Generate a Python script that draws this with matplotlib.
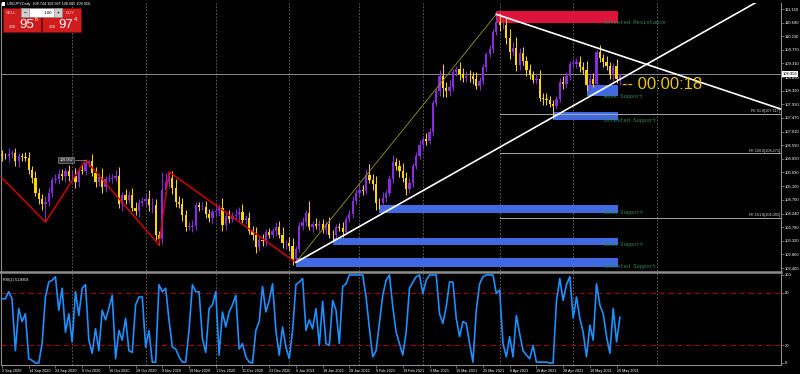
import matplotlib
matplotlib.use("Agg")
import matplotlib.pyplot as plt
import matplotlib.transforms as mtrans
from matplotlib.patches import Rectangle
from matplotlib.lines import Line2D
import numpy as np

plt.rcParams['font.family'] = ['Liberation Sans', 'DejaVu Sans']

# ---------------- data ----------------
closes = [
    106.18, 106.17, 106.24, 106.27, 106.01, 106.18, 106.15, 106.13, 105.71, 105.43,
    104.94, 104.72, 104.55, 104.64, 104.92, 105.38, 105.40, 105.58, 105.50, 105.69,
    105.50, 105.52, 105.30, 105.72, 105.67, 105.96, 106.00, 105.60, 105.30, 105.48,
    105.12, 105.42, 105.42, 105.45, 105.50, 104.56, 104.86, 104.70, 104.85, 104.43,
    104.33, 104.60, 104.65, 104.72, 104.52, 104.52, 103.50, 103.37, 105.05, 105.30,
    105.43, 105.10, 104.62, 104.55, 104.19, 103.80, 103.80, 103.82, 104.52, 104.45,
    104.47, 104.23, 104.08, 104.28, 104.32, 104.42, 103.84, 104.17, 104.05, 104.16,
    104.20, 104.30, 104.03, 104.08, 103.65, 103.50, 103.10, 103.36, 103.31, 103.63,
    103.53, 103.64, 103.80, 103.53, 103.24, 103.24, 103.13, 102.70, 103.05, 103.82,
    103.94, 104.25, 103.77, 103.88, 103.83, 103.87, 103.69, 103.87, 103.52, 103.50,
    103.77, 103.76, 103.61, 104.07, 104.23, 104.68, 104.94, 105.04, 105.01, 105.53,
    105.38, 105.25, 104.60, 104.58, 104.78, 104.93, 105.40, 105.98, 105.86, 105.69,
    105.44, 105.07, 105.28, 105.86, 106.19, 106.56, 106.76, 106.69, 107.00, 107.98,
    108.37, 108.90, 108.48, 108.37, 108.50, 109.02, 109.12, 108.95, 108.82, 108.90,
    108.88, 108.78, 108.56, 108.73, 109.18, 109.63, 109.80, 110.38, 110.71, 110.61,
    110.61, 110.17, 109.71, 109.84, 109.25, 109.67, 109.39, 109.08, 108.92, 108.76,
    108.78, 108.16, 108.11, 108.07, 107.95, 107.88, 108.12, 108.67, 108.60, 108.90,
    109.30, 109.30, 109.37, 109.20, 109.08, 108.58, 108.80, 108.63, 109.69, 109.49,
    109.35, 109.22, 108.92, 109.22, 108.77, 108.96,
]
first_open = 106.25
wick_up = [
    0.15, 0.12, 0.20, 0.10, 0.18, 0.12, 0.10, 0.16, 0.20, 0.12,
    0.25, 0.15, 0.18, 0.20, 0.22, 0.10, 0.18, 0.12, 0.15, 0.10,
    0.20, 0.18, 0.25, 0.10, 0.20, 0.09, 0.06, 0.25, 0.20, 0.12,
    0.30, 0.10, 0.15, 0.12, 0.20, 0.30, 0.12, 0.20, 0.15, 0.25,
    0.20, 0.12, 0.15, 0.18, 0.30, 0.25, 0.20, 0.15, 0.60, 0.30,
    0.22, 0.25, 0.30, 0.20, 0.22, 0.18, 0.15, 0.20, 0.10, 0.12,
    0.15, 0.20, 0.18, 0.10, 0.20, 0.15, 0.35, 0.15, 0.20, 0.12,
    0.18, 0.15, 0.25, 0.12, 0.20, 0.18, 0.30, 0.15, 0.20, 0.10,
    0.12, 0.10, 0.15, 0.20, 0.25, 0.12, 0.20, 0.30, 0.10, 0.15,
    0.18, 0.10, 0.40, 0.12, 0.20, 0.15, 0.18, 0.12, 0.25, 0.15,
    0.10, 0.15, 0.20, 0.10, 0.12, 0.15, 0.12, 0.20, 0.15, 0.20,
    0.38, 0.20, 0.25, 0.15, 0.20, 0.10, 0.15, 0.24, 0.15, 0.20,
    0.25, 0.20, 0.15, 0.10, 0.12, 0.15, 0.10, 0.20, 0.12, 0.10,
    0.12, 0.20, 0.40, 0.20, 0.25, 0.10, 0.12, 0.25, 0.20, 0.15,
    0.20, 0.15, 0.25, 0.12, 0.10, 0.08, 0.12, 0.10, 0.26, 0.30,
    0.20, 0.25, 0.30, 0.20, 0.35, 0.15, 0.20, 0.18, 0.20, 0.15,
    0.20, 0.30, 0.15, 0.20, 0.15, 0.12, 0.10, 0.15, 0.20, 0.12,
    0.10, 0.15, 0.12, 0.20, 0.15, 0.30, 0.15, 0.20, 0.09, 0.25,
    0.15, 0.20, 0.15, 0.12, 0.25, 0.04,
]
wick_dn = [
    0.15, 0.10, 0.18, 0.12, 0.15, 0.20, 0.12, 0.10, 0.12, 0.15,
    0.10, 0.15, 0.20, 0.60, 0.15, 0.12, 0.10, 0.15, 0.12, 0.18,
    0.15, 0.12, 0.20, 0.15, 0.10, 0.12, 0.15, 0.10, 0.18, 0.12,
    0.20, 0.15, 0.12, 0.15, 0.10, 0.12, 0.25, 0.15, 0.12, 0.10,
    0.15, 0.20, 0.12, 0.15, 0.20, 0.25, 0.15, 0.19, 0.15, 0.20,
    0.18, 0.20, 0.15, 0.12, 0.20, 0.15, 0.12, 0.18, 0.15, 0.12,
    0.10, 0.15, 0.12, 0.20, 0.12, 0.15, 0.20, 0.15, 0.12, 0.10,
    0.15, 0.20, 0.12, 0.15, 0.10, 0.15, 0.20, 0.12, 0.15, 0.18,
    0.12, 0.10, 0.15, 0.12, 0.15, 0.20, 0.15, 0.20, 0.11, 0.12,
    0.15, 0.12, 0.10, 0.15, 0.12, 0.18, 0.12, 0.15, 0.12, 0.20,
    0.15, 0.12, 0.15, 0.10, 0.12, 0.15, 0.12, 0.10, 0.15, 0.12,
    0.10, 0.20, 0.25, 0.18, 0.12, 0.15, 0.10, 0.12, 0.15, 0.20,
    0.15, 0.20, 0.12, 0.15, 0.10, 0.12, 0.15, 0.12, 0.10, 0.15,
    0.12, 0.15, 0.30, 0.20, 0.15, 0.12, 0.15, 0.20, 0.12, 0.15,
    0.20, 0.15, 0.12, 0.15, 0.10, 0.12, 0.10, 0.15, 0.12, 0.20,
    0.15, 0.20, 0.25, 0.15, 0.20, 0.15, 0.12, 0.18, 0.15, 0.12,
    0.15, 0.12, 0.20, 0.15, 0.10, 0.41, 0.12, 0.10, 0.15, 0.12,
    0.15, 0.12, 0.15, 0.18, 0.12, 0.20, 0.15, 0.12, 0.15, 0.12,
    0.15, 0.12, 0.15, 0.20, 0.12, 0.18,
]
rsi = [
    73, 73, 81, 73, 14, 62, 47, 56, 5, 3, 0,
    0, 22, 75, 92, 94, 98, 60, 85, 35, 56,
    24, 81, 54, 85, 89, 26, 11, 39, 14, 60,
    49, 62, 77, 5, 37, 26, 51, 14, 12, 66,
    75, 75, 18, 37, 1, 1, 89, 81, 85, 49,
    18, 16, 7, 1, 1, 37, 89, 81, 81, 28,
    12, 62, 66, 81, 9, 58, 41, 58, 66, 77,
    16, 22, 7, 1, 0, 37, 47, 87, 58, 71,
    90, 37, 9, 41, 18, 5, 37, 89, 92, 96,
    37, 49, 39, 62, 20, 70, 22, 20, 71, 60,
    22, 87, 90, 100, 100, 100, 100, 100, 75, 39,
    7, 14, 45, 77, 94, 100, 64, 35, 22, 9,
    35, 85, 92, 98, 100, 79, 94, 100, 100, 100,
    56, 45, 64, 92, 92, 51, 30, 47, 45, 22,
    1, 60, 90, 98, 100, 100, 100, 79, 83, 22,
    7, 30, 7, 54, 33, 14, 9, 5, 20, 1, 1,
    1, 1, 0, 0, 70, 96, 71, 89, 98, 51,
    75, 51, 35, 7, 43, 26, 90, 66, 56, 30,
    11, 62, 24, 52,
]
date_labels = ["2 Sep 2020", "14 Sep 2020", "24 Sep 2020", "6 Oct 2020", "16 Oct 2020",
               "28 Oct 2020", "9 Nov 2020", "19 Nov 2020", "1 Dec 2020", "11 Dec 2020",
               "23 Dec 2020", "6 Jan 2021", "18 Jan 2021", "28 Jan 2021", "9 Feb 2021",
               "19 Feb 2021", "3 Mar 2021", "15 Mar 2021", "25 Mar 2021", "6 Apr 2021",
               "16 Apr 2021", "28 Apr 2021", "10 May 2021", "20 May 2021"]
date_label_bars = [0, 8, 16, 24, 32, 40, 48, 56, 64, 72, 80, 88, 96, 104, 112, 120,
                   128, 136, 144, 152, 160, 168, 176, 184]
month_grid_bars = [21, 43, 64, 86, 107, 126, 149, 171, 196]
price_ticks = [111.150, 110.690, 110.230, 109.770, 109.310, 108.850, 108.390, 107.930,
               107.470, 107.010, 106.550, 106.090, 105.630, 105.160, 104.700, 104.240,
               103.780, 103.320, 102.860, 102.400]
rsi_ticks = [100, 80, 20, 0]
rsi_levels = [80, 20]
current_price = 108.956
zigzag_bars = [0, 13, 25, 47, 50, 88]
zigzag_prices = [105.44, 103.95, 106.05, 103.18, 105.65, 102.59]
trend_up = [(88, 102.59), (227, 111.45)]
trend_down = [(148, 110.97), (233.2, 107.77)]
fibo_line = [(88, 102.59), (148, 110.97)]
fe_levels = [107.617, 106.271, 104.093]
fe_names = ["FE 61.8[107.617]", "FE 100.0[106.271]", "FE 161.8[104.093]"]
fe_start_bar = 149
zone_names = ["Untested Resistance", "Weak Support", "Untested Support",
              "Weak Support", "Weak Support", "Untested Support"]
zone_start = [148, 175, 165, 113, 99, 88]
zone_low = [110.68, 108.21, 107.40, 104.26, 103.18, 102.44]
zone_high = [111.08, 108.58, 107.67, 104.53, 103.41, 102.74]
zone_end = 184.5

# ---------------- figure ----------------
W, H = 800, 374
fig = plt.figure(figsize=(W / 100, H / 100), dpi=100, facecolor='black')

def fx(px):
    return px / W

def fy(py):
    return 1 - py / H

X0, DX = 2.0, 3.34
AX_L, AX_R = 1, 781
PPX = 29.6
P_REF, P_REF_PX = 111.15, 9
MAIN_T, MAIN_B = 3, 271
RSI_T, RSI_B = 273, 365
SMALL = 2.7
TICKF = 3.0

ax = fig.add_axes([fx(AX_L), fy(MAIN_B), (AX_R - AX_L) / W, (MAIN_B - MAIN_T) / H])
ax2 = fig.add_axes([fx(AX_L), fy(RSI_B), (AX_R - AX_L) / W, (RSI_B - RSI_T) / H])
xl = ((AX_L - X0) / DX, (AX_R - X0) / DX)
for a in (ax, ax2):
    a.set_facecolor('black')
    a.set_xlim(*xl)
ax.set_ylim(P_REF - (MAIN_B - P_REF_PX) / PPX, P_REF + (P_REF_PX - MAIN_T) / PPX)
RPX = 0.88
ax2.set_ylim(-(RSI_B - 363) / RPX, (363 - RSI_T) / RPX)

GRID = '#707070'
AXC = '#8c8c8c'
for a in (ax, ax2):
    for s in a.spines.values():
        s.set_color(AXC)
        s.set_linewidth(0.8)
    a.spines['top'].set_visible(False)
ax.spines['bottom'].set_visible(False)

# month grid
for b in month_grid_bars:
    ax.axvline(b, color=GRID, lw=0.6, ls=(0, (2, 2)), zorder=0)
    ax2.axvline(b, color=GRID, lw=0.6, ls=(0, (2, 2)), zorder=0)

# zones
for name, s, lo, hi in zip(zone_names, zone_start, zone_low, zone_high):
    col = '#DC143C' if 'Resistance' in name else '#4169E1'
    ax.add_patch(Rectangle((s, lo), zone_end - s, hi - lo, fc=col, ec='none', zorder=1))
    ax.text(180.2, lo, name, color='#2E8B57', fontsize=4.0, family='Liberation Mono',
            ha='left', va='center', zorder=6)

# candles
n = min(len(closes), len(wick_up), len(wick_dn))
cl = np.array(closes[:n])
op = np.array([first_open] + closes[:n - 1])
hi = np.maximum(op, cl) + np.array(wick_up[:n])
lo = np.minimum(op, cl) - np.array(wick_dn[:n])
idx = np.arange(n)
bull = cl >= op
cols = np.where(bull, '#8A2BE2', '#FFD700')
ax.vlines(idx, lo, hi, colors=cols, lw=0.7, zorder=3)
ax.bar(idx, np.maximum(np.abs(cl - op), 0.015), bottom=np.minimum(op, cl), width=0.68,
       color=cols, edgecolor='none', zorder=4)

# FE lines
for lev, nm in zip(fe_levels, fe_names):
    ax.plot([fe_start_bar, xl[1]], [lev, lev], color='#a8a8a8', lw=0.7, zorder=2)
    ax.text(xl[1] - 0.4, lev + 0.03, nm, color='#d8d8d8', fontsize=SMALL, ha='right',
            va='bottom', zorder=7)

# bid line
ax.axhline(current_price, color='#8c8c8c', lw=0.7, zorder=2)

# zigzag
ax.plot(zigzag_bars, zigzag_prices, color='#E00000', lw=1.0, zorder=5)
ax.plot([zigzag_bars[2] - 3.0, zigzag_bars[2]], [zigzag_prices[2], zigzag_prices[2]],
        color='#9a9a9a', lw=0.5, zorder=6)
ax.text(zigzag_bars[2] - 5.8, zigzag_prices[2], "106.052", fontsize=SMALL, color='white',
        ha='center', va='center', zorder=7,
        bbox=dict(boxstyle='square,pad=0.25', fc='#3a3a3a', ec='#9a9a9a', lw=0.4))

# trend lines (rays)
def ray(p, q, xend=260):
    (x1, y1), (x2, y2) = p, q
    k = (y2 - y1) / (x2 - x1)
    return [x1, xend], [y1, y1 + k * (xend - x1)]

xs, ys = ray(*trend_up)
ax.plot(xs, ys, color='white', lw=1.2, zorder=6)
xs, ys = ray(*trend_down)
ax.plot(xs, ys, color='white', lw=1.2, zorder=6)
ax.plot([fibo_line[0][0], fibo_line[1][0]], [fibo_line[0][1], fibo_line[1][1]],
        color='#9a9a10', lw=0.6, zorder=5)

# price axis
ax.yaxis.tick_right()
ax.set_yticks(price_ticks)
ax.set_yticklabels([f"{t:.3f}" for t in price_ticks])
ax.tick_params(axis='y', color=AXC, labelcolor='white', labelsize=TICKF, length=2, width=0.5, pad=1.0)
ax.set_xticks([])
ax.text(1.0022, current_price, f"{current_price:.3f}",
        transform=mtrans.blended_transform_factory(ax.transAxes, ax.transData),
        fontsize=TICKF, color='black', ha='left', va='center', zorder=10, clip_on=False,
        bbox=dict(boxstyle='square,pad=0.2', fc='white', ec='none'))

# countdown text
ax.text((622 - X0) / DX, current_price - 0.37, "-- 00:00:18", color='#EAC417', fontsize=12,
        family='Liberation Sans', ha='left', va='center', zorder=8)

# RSI panel
ax2.plot(np.arange(len(rsi)), rsi, color='#1E90FF', lw=1.2, zorder=4)
for lv in rsi_levels:
    ax2.axhline(lv, color='#9b0000', lw=0.8, ls=(0, (5, 3)), zorder=2)
ax2.yaxis.tick_right()
ax2.set_yticks(rsi_ticks)
ax2.set_yticklabels([str(t) for t in rsi_ticks])
ax2.tick_params(axis='y', color=AXC, labelcolor='white', labelsize=TICKF, length=2, width=0.5, pad=1.0)
ax2.set_xticks(date_label_bars)
ax2.set_xticklabels(date_labels)
ax2.tick_params(axis='x', color=AXC, labelcolor='white', labelsize=SMALL, length=2, width=0.5, pad=1)
for lab in ax2.get_xticklabels():
    lab.set_ha('left')
ax2.text(0.002, 0.95, "RSI(2) 51.8908", transform=ax2.transAxes, fontsize=SMALL, color='white',
         ha='left', va='top')

# separator
fig.add_artist(Line2D([fx(0), fx(AX_R)], [fy(272), fy(272)], color='#8c8c8c', lw=1.8,
                      transform=fig.transFigure))

# ---------------- header / trade panel ----------------
def rect(x1, y1, x2, y2, **kw):
    fig.add_artist(Rectangle((x1 / W, 1 - y2 / H), (x2 - x1) / W, (y2 - y1) / H,
                             transform=fig.transFigure, **kw))

def txt(x, y, s, **kw):
    fig.text(x / W, 1 - y / H, s, **kw)

rect(2, 2, 5, 6, fc='white', ec='none')
txt(7, 4, "USDJPY,Daily  108.744 108.997 108.605 108.956", fontsize=SMALL, color='white', va='center')
rect(3, 8, 41, 32, fc='#D01C1C', ec='#7a0e0e', lw=0.5)
rect(42, 8, 81, 32, fc='#D01C1C', ec='#7a0e0e', lw=0.5)
rect(21, 8, 62, 17, fc='white', ec='#7a7a7a', lw=0.4)
rect(21, 8, 29, 17, fc='#cfcfcf', ec='#7a7a7a', lw=0.4)
rect(54, 8, 62, 17, fc='#cfcfcf', ec='#7a7a7a', lw=0.4)
txt(25, 12.5, "−", fontsize=3.5, color='black', ha='center', va='center')
txt(58, 12.5, "+", fontsize=3.5, color='black', ha='center', va='center')
txt(52, 12.5, "1.00", fontsize=3.2, color='black', ha='right', va='center')
txt(6, 12.5, "SELL", fontsize=3.2, color='#ffc4c4', va='center')
txt(66, 12.5, "BUY", fontsize=3.2, color='#ffc4c4', va='center')
txt(9, 27.5, "108", fontsize=3.0, color='white', va='center')
txt(19.5, 25, "95", fontsize=9.5, color='white', va='center')
txt(35, 19.5, "6", fontsize=4.0, color='white', va='center')
txt(49, 27.5, "108", fontsize=3.0, color='white', va='center')
txt(58, 25, "97", fontsize=9.5, color='white', va='center')
txt(74, 19.5, "4", fontsize=4.0, color='white', va='center')

fig.savefig("out.png", dpi=100, facecolor='black')
